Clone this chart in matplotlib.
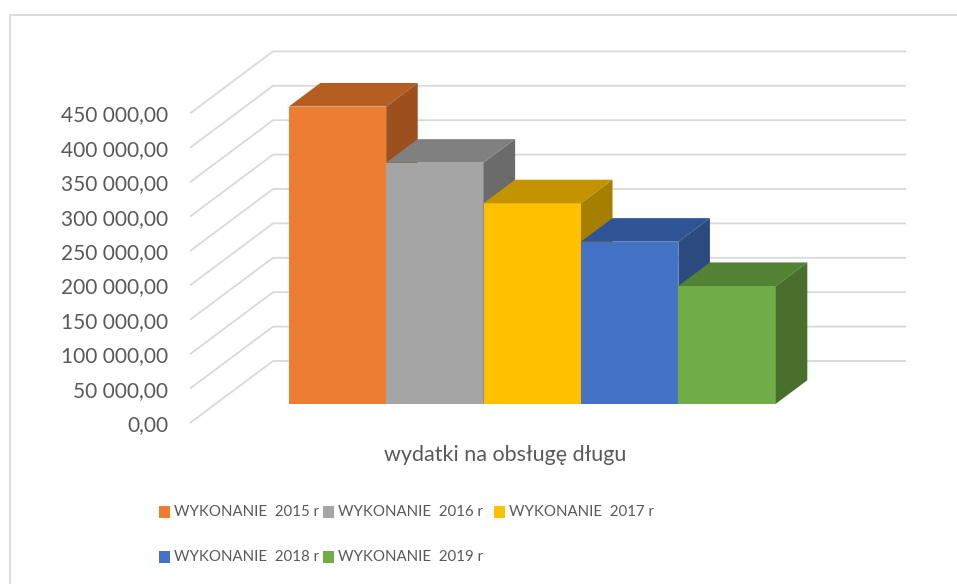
import matplotlib.pyplot as plt
from matplotlib.patches import Polygon, Rectangle

years = ['2015', '2016', '2017', '2018', '2019']
values = [432000, 350400, 291400, 235600, 171200]
labels = ['WYKONANIE  %s r' % y for y in years]
front_colors = ['#ED7D31', '#A5A5A5', '#FFC000', '#4472C4', '#70AD47']
top_colors = ['#B55E22', '#808080', '#C49400', '#2F5597', '#548235']
side_colors = ['#9C501D', '#6B6B6B', '#A67E00', '#2A4A80', '#48702C']
yticks = list(range(0, 450001, 50000))
ytick_labels = ['0,00'] + ['{:,}'.format(v).replace(',', ' ') + ',00' for v in yticks[1:]]
category = 'wydatki na obsługę długu'

W, H = 957, 584
PX_UNIT = 97.4            # pixels per bar width
PX_VAL = 34.4 / 50000     # pixels per value unit
DX = 83 / PX_UNIT         # depth offset (x, bar units)
DY = 62 / PX_VAL          # depth offset (y, value units)
FLOOR_W = 6.5
GAP = (FLOOR_W - len(values)) / 2
D0, D1 = 0.31, 0.69       # bar depth range

GRID = '#D9D9D9'
TXT = '#595959'
FONT = ['Lato', 'DejaVu Sans']

fig = plt.figure(figsize=(W / 100, H / 100), dpi=100)

# chart border
fig.patches.append(Rectangle((10 / W, -0.1), 1.2, 1 - 15 / H + 0.1, transform=fig.transFigure,
                             fill=False, edgecolor=GRID, linewidth=1.3))

# axes box in pixels, origin (front-left floor corner) at px (190, 423)
left, right, top, bottom = 180, 916, 40, 430
ax = fig.add_axes([left / W, 1 - bottom / H, (right - left) / W, (bottom - top) / H])
ax.set_xlim((left - 190) / PX_UNIT, (right - 190) / PX_UNIT)
ax.set_ylim((423 - bottom) / PX_VAL, (423 - top) / PX_VAL)
ax.set_facecolor('none')
for s in ax.spines.values():
    s.set_visible(False)
ax.set_xticks([])
ax.set_yticks(yticks, ytick_labels)
ax.tick_params(axis='y', length=0, pad=8.6, labelcolor=TXT)
for t in ax.get_yticklabels():
    t.set_family(FONT)
    t.set_fontsize(15)

# gridlines on left and back walls
for v in yticks:
    ax.plot([0, DX, DX + FLOOR_W], [v, v + DY, v + DY], color=GRID, linewidth=1.3,
            zorder=1, clip_on=False, solid_capstyle='butt')

# bars
ox, oy = (D1 - D0) * DX, (D1 - D0) * DY
for i, v in enumerate(values):
    x0 = GAP + i + D0 * DX
    b0 = D0 * DY
    ax.bar(x0, v, width=1, bottom=b0, align='edge', color=front_colors[i],
           linewidth=0, zorder=3 + i)
    ax.add_patch(Polygon([(x0, b0 + v), (x0 + 1, b0 + v), (x0 + 1 + ox, b0 + v + oy),
                          (x0 + ox, b0 + v + oy)], closed=True, facecolor=top_colors[i],
                         linewidth=0, zorder=3 + i))
    ax.add_patch(Polygon([(x0 + 1, b0), (x0 + 1, b0 + v), (x0 + 1 + ox, b0 + v + oy),
                          (x0 + 1 + ox, b0 + oy)], closed=True, facecolor=side_colors[i],
                         linewidth=0, zorder=3 + i))

# category label
fig.text(505 / W, 1 - 455 / H, category, ha='center', va='center', color=TXT,
         fontsize=15.5, family=FONT)

# legend (two rows, like the original)
legend_pos = [(159, 512), (323, 512), (494, 512), (159, 557), (323, 557)]
for (px, py), lab, c in zip(legend_pos, labels, front_colors):
    fig.patches.append(Rectangle((px / W, 1 - (py + 6) / H), 11 / W, 12 / H,
                                 transform=fig.transFigure, facecolor=c, linewidth=0))
    fig.text((px + 15) / W, 1 - py / H, lab, ha='left', va='center', color=TXT,
             fontsize=10.8, family=FONT)

fig.savefig('out.png', dpi=100)
